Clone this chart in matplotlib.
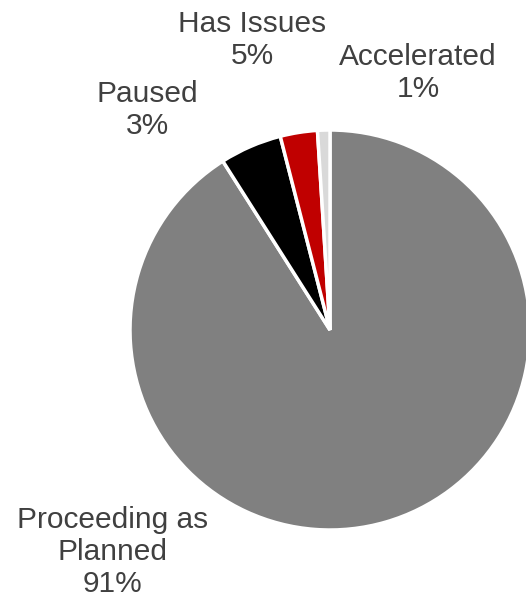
import matplotlib.pyplot as plt

# project status split
labels = ['Proceeding as\nPlanned', 'Has Issues', 'Paused', 'Accelerated']
values = [91, 5, 3, 1]
colors = ['#808080', '#000000', '#C00000', '#D9D9D9']

# label anchor points in pixel coords (x, y from top)
label_pos = [(113, 552), (252, 40), (147, 110), (418, 73)]

W, H = 526, 604
fig = plt.figure(figsize=(W / 100, H / 100), dpi=100)
ax = fig.add_axes([0, 0, 1, 1])

# y axis runs downward, so start at -90 and go counterclock in data
# coords to get the usual clockwise-from-top layout on screen
ax.pie(values, colors=colors, startangle=-90, counterclock=True,
       center=(330, 330), radius=200, frame=True,
       wedgeprops=dict(edgecolor='white', linewidth=2.5))
ax.set_xlim(0, W)
ax.set_ylim(H, 0)
ax.set_aspect('equal')
ax.axis('off')

for lab, v, (x, y) in zip(labels, values, label_pos):
    ax.text(x, y, f'{lab}\n{v}%', ha='center', va='center', fontsize=21.5,
            color='#404040', family='Liberation Sans', linespacing=1.17)

fig.savefig('out.png', dpi=100)
